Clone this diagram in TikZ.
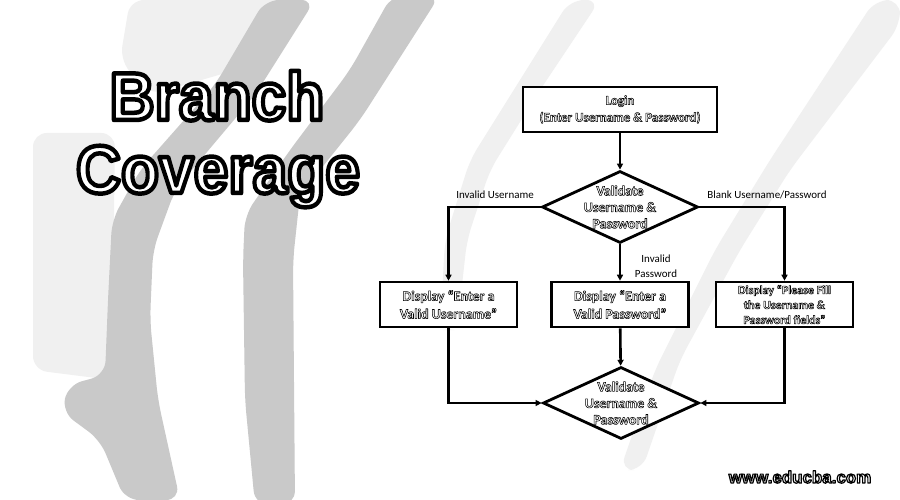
\documentclass[tikz,border=0pt]{standalone}
\usepackage{fontspec}
\setmainfont{Carlito}
\newfontfamily\titlefont{Liberation Sans}
\usetikzlibrary{shapes.geometric,arrows.meta}
% outlined text: white fill, black stroke (PDF text render mode 2)
\newcommand\outl[2]{{\special{pdf:literal direct 0 G #1 w 1 j 2 Tr}#2\special{pdf:literal direct 0 Tr}}}
\newcommand\oc[1]{\outl{0.55}{#1}}
\tikzset{
  bgdense/.style={fill=black!21, rounded corners=14bp},
  bgsparse/.style={fill=black!6, rounded corners=14bp},
  boxnode/.style={draw, line width=2.6bp, fill=white, minimum width=137bp, minimum height=45bp, inner sep=0pt, align=center, text=white, font=\bfseries\fontsize{14}{18}\selectfont},
  dia/.style={draw, diamond, line width=2.8bp, fill=white, minimum width=156bp, minimum height=72bp, inner sep=0pt},
  diatext/.style={align=center, text=white, font=\bfseries\fontsize{14}{16.5}\selectfont, inner sep=0pt},
  conn/.style={line width=2.6bp, -{Triangle[length=6bp,width=6bp]}},
  lbl/.style={font=\fontsize{11}{15}\selectfont, align=center, inner sep=0pt},
  titletext/.style={text=white, font=\titlefont\bfseries\fontsize{68}{70}\selectfont, xscale=0.92, inner sep=0pt}
}
\begin{document}
\begin{tikzpicture}[x=1bp,y=-1bp]
\useasboundingbox (0,0) rectangle (900,500);
\fill[white] (0,0) rectangle (900,500);
% background decoration
\fill[bgsparse] (130,0) -- (300,0) -- (270,60) -- (150,95) -- (120,60) -- cycle;
\fill[bgsparse] (33,133) -- (115,133) -- (112,380) -- (33,370) -- cycle;
\fill[bgsparse] (875,0) -- (900,0) -- (900,25) -- (790,170) -- (740,250) -- (680,360) -- (642,470) -- (620,470) -- (655,370) -- (715,250) -- (770,160) -- cycle;
\fill[bgsparse] (570,0) -- (600,0) -- (540,90) -- (490,170) -- (467,240) -- (457,330) -- (440,330) -- (445,240) -- (470,160) -- (520,80) -- cycle;
\fill[bgdense] (265,0) -- (315,0) -- (255,95) -- (175,190) -- (153,250) -- (150,320) -- (158,400) -- (180,500) -- (125,500) -- (100,440) -- (62,412) -- (68,385) -- (105,375) -- (108,300) -- (112,220) -- (140,170) -- (215,85) -- cycle;
\fill[bgdense] (392,-5) -- (440,-5) -- (360,120) -- (300,195) -- (293,260) -- (295,505) -- (255,505) -- (245,400) -- (243,260) -- (245,215) -- (290,150) -- (350,70) -- cycle;
% title
\node[titletext, anchor=base] (t1) at (217,120) {\outl{4.5}{Branch}};
\node[titletext, anchor=base] (t2) at (218,193) {\outl{4.5}{Coverage}};
% flowchart
\node[boxnode, minimum width=194bp, font=\bfseries\fontsize{13}{17}\selectfont] (login) at (620,109.5) {\oc{Login}\\\oc{(Enter Username \& Password)}};
\node[dia] (d1) at (620,207) {};
\node[diatext] (d1t) at (d1) {\oc{Validate}\\\oc{Username \&}\\\oc{Password}};
\node[boxnode] (b1) at (448.5,304.5) {\oc{Display “Enter a}\\\oc{Valid Username”}};
\node[boxnode] (b2) at (620,304.5) {\oc{Display “Enter a}\\\oc{Valid Password”}};
\node[boxnode, font=\bfseries\fontsize{12}{15}\selectfont] (b3) at (784.5,304.5) {\oc{Display “Please Fill}\\\oc{the Username \&}\\\oc{Password fields”}};
\node[dia] (d2) at (621,403) {};
\node[diatext] (d2t) at (d2) {\oc{Validate}\\\oc{Username \&}\\\oc{Password}};
\draw[conn] (login) -- (d1);
\draw[conn] (d1.west) -| (b1);
\draw[conn] (d1.east) -| (b3);
\draw[conn] (d1) -- (b2);
\draw[conn] (b2) -- (d2);
\draw[conn] (b1) |- (d2.west);
\draw[conn] (b3) |- (d2.east);
\node[lbl] (l1) at (495,195) {Invalid Username};
\node[lbl] (l2) at (767,195) {Blank Username/Password};
\node[lbl] (l3) at (656,266) {Invalid\\Password};
% website
\node[text=white, font=\titlefont\bfseries\fontsize{17}{20}\selectfont, inner sep=0pt] (web) at (800,477) {\outl{1.2}{www.educba.com}};
\end{tikzpicture}
\end{document}
